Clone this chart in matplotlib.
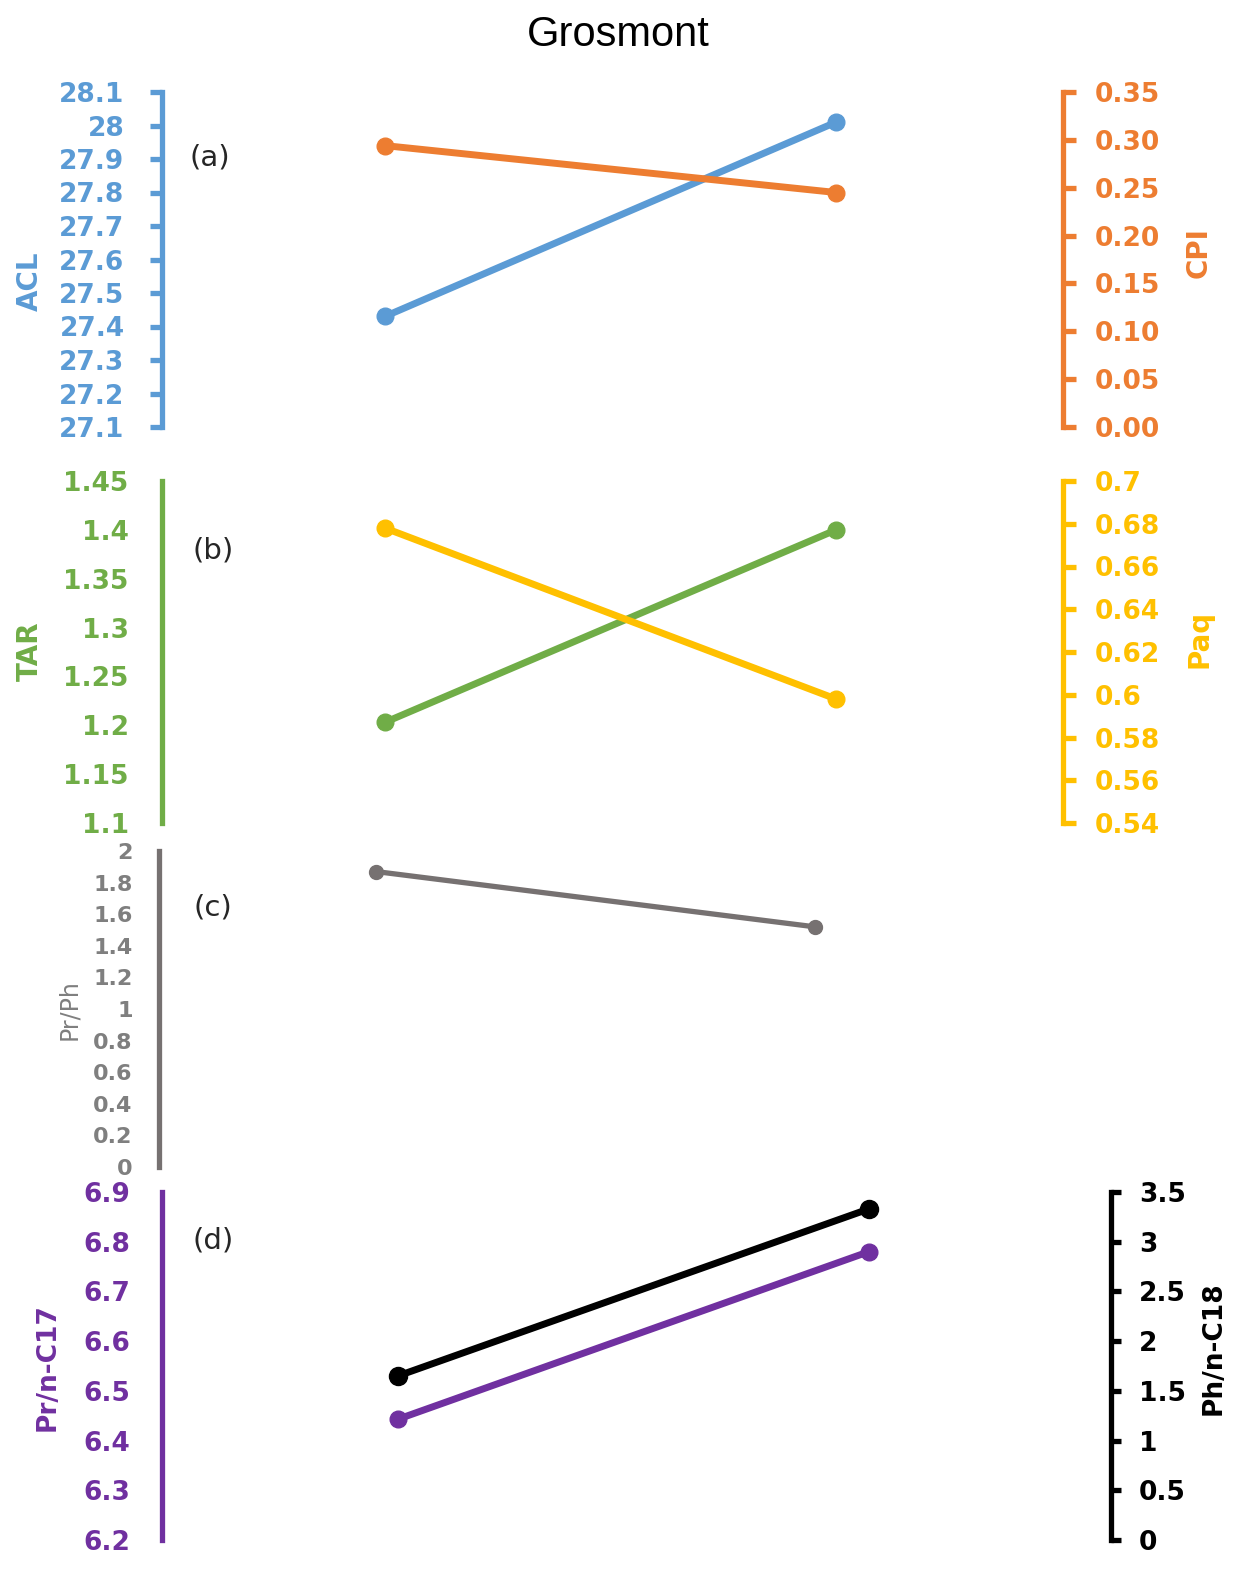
import matplotlib
matplotlib.use('Agg')
import matplotlib.pyplot as plt

dates = ["26/1/08", "27/1/08"]
idx = [0, 1]

acl = [27.43, 28.01]
cpi = [0.294, 0.245]
tar = [1.203, 1.40]
paq = [0.678, 0.598]
pr_ph = [1.87, 1.52]
pr_c17 = [6.443, 6.78]
ph_c18 = [1.65, 3.33]

acl_ticks = [27.1, 27.2, 27.3, 27.4, 27.5, 27.6, 27.7, 27.8, 27.9, 28, 28.1]
acl_labels = ["27.1", "27.2", "27.3", "27.4", "27.5", "27.6", "27.7", "27.8", "27.9", "28", "28.1"]
cpi_ticks = [0, 0.05, 0.10, 0.15, 0.20, 0.25, 0.30, 0.35]
cpi_labels = ["0.00", "0.05", "0.10", "0.15", "0.20", "0.25", "0.30", "0.35"]
tar_ticks = [1.1, 1.15, 1.2, 1.25, 1.3, 1.35, 1.4, 1.45]
tar_labels = ["1.1", "1.15", "1.2", "1.25", "1.3", "1.35", "1.4", "1.45"]
paq_ticks = [0.54, 0.56, 0.58, 0.6, 0.62, 0.64, 0.66, 0.68, 0.7]
paq_labels = ["0.54", "0.56", "0.58", "0.6", "0.62", "0.64", "0.66", "0.68", "0.7"]
prph_ticks = [0, 0.2, 0.4, 0.6, 0.8, 1, 1.2, 1.4, 1.6, 1.8, 2]
prph_labels = ["0", "0.2", "0.4", "0.6", "0.8", "1", "1.2", "1.4", "1.6", "1.8", "2"]
c17_ticks = [6.2, 6.3, 6.4, 6.5, 6.6, 6.7, 6.8, 6.9]
c17_labels = ["6.2", "6.3", "6.4", "6.5", "6.6", "6.7", "6.8", "6.9"]
c18_ticks = [0, 0.5, 1, 1.5, 2, 2.5, 3, 3.5]
c18_labels = ["0", "0.5", "1", "1.5", "2", "2.5", "3", "3.5"]

BLUE = '#5B9BD5'
ORANGE = '#ED7D31'
GREEN = '#70AD47'
YELLOW = '#FFC000'
GRAY = '#767171'
PURPLE = '#7030A0'
BLACK = '#000000'

plt.rcParams['font.family'] = ['DejaVu Sans']

W, H = 1236, 1582
fig = plt.figure(figsize=(W / 100, H / 100), dpi=100)


def px_axes(left, right, top, bottom):
    return fig.add_axes([left / W, (H - bottom) / H, (right - left) / W, (bottom - top) / H])


def clean(ax):
    for s in ['top', 'bottom', 'left', 'right']:
        ax.spines[s].set_visible(False)
    ax.set_xticks([])
    ax.patch.set_alpha(0)


def ylabel_at(ax, label, xy, size, color, weight='bold'):
    ax.text(xy[0], xy[1], label, transform=ax.transAxes, rotation=90, ha='center', va='center',
            fontsize=size, fontweight=weight, color=color)


def left_axis(ax, color, ticks, labels, lim, tick_len, pad, size, weight='bold'):
    ax.spines['left'].set_visible(True)
    ax.spines['left'].set_color(color)
    ax.spines['left'].set_linewidth(3.8)
    ax.set_ylim(lim)
    ax.set_yticks(ticks)
    ax.set_yticklabels(labels, fontsize=size, fontweight=weight, color=color)
    ax.tick_params(axis='y', direction='out', length=tick_len, width=3.8, color=color, pad=pad)


def right_axis(ax, color, ticks, labels, lim, tick_len, pad, size):
    ax.spines['right'].set_visible(True)
    ax.spines['right'].set_color(color)
    ax.spines['right'].set_linewidth(3.8)
    ax.set_ylim(lim)
    ax.set_yticks(ticks)
    ax.set_yticklabels(labels, fontsize=size, fontweight='bold', color=color)
    ax.tick_params(axis='y', direction='out', length=tick_len, width=3.8, color=color, pad=pad,
                   left=False, labelleft=False, right=True, labelright=True)


LW = 5
MS = 12

# (a) ACL / CPI
ax_a = px_axes(162, 1063, 92, 427)
clean(ax_a)
left_axis(ax_a, BLUE, acl_ticks, acl_labels, (27.1, 28.1), 9, 18, 19)
ylabel_at(ax_a, 'ACL', (-0.147, 0.436), 20, BLUE)
ax_a.plot(idx, acl, color=BLUE, lw=LW, marker='o', ms=MS)
ax_a.set_xlim(-0.494, 1.503)
ax_a.text(0.053, 0.803, '(a)', transform=ax_a.transAxes, fontsize=21, color='#262626', ha='center', va='center')
ax_a2 = ax_a.twinx()
clean(ax_a2)
right_axis(ax_a2, ORANGE, cpi_ticks, cpi_labels, (0, 0.35), 9, 14, 19)
ylabel_at(ax_a2, 'CPI', (1.151, 0.522), 20, ORANGE)
ax_a2.plot(idx, cpi, color=ORANGE, lw=LW, marker='o', ms=MS)
ax_a2.set_xlim(-0.494, 1.503)

# (b) TAR / Paq
ax_b = px_axes(162, 1063, 481, 823)
clean(ax_b)
left_axis(ax_b, GREEN, tar_ticks, tar_labels, (1.1, 1.45), 0, 24, 19)
ylabel_at(ax_b, 'TAR', (-0.147, 0.503), 20, GREEN)
ax_b.plot(idx, tar, color=GREEN, lw=LW, marker='o', ms=MS)
ax_b.set_xlim(-0.494, 1.503)
ax_b.text(0.057, 0.798, '(b)', transform=ax_b.transAxes, fontsize=21, color='#262626', ha='center', va='center')
ax_b2 = ax_b.twinx()
clean(ax_b2)
right_axis(ax_b2, YELLOW, paq_ticks, paq_labels, (0.54, 0.7), 9, 14, 19)
ylabel_at(ax_b2, 'Paq', (1.151, 0.538), 20, YELLOW)
ax_b2.plot(idx, paq, color=YELLOW, lw=LW, marker='o', ms=MS)
ax_b2.set_xlim(-0.494, 1.503)

# (c) Pr/Ph
ax_c = px_axes(159, 1063, 851, 1167)
clean(ax_c)
left_axis(ax_c, GRAY, prph_ticks, prph_labels, (0, 2), 0, 19, 16)
for t in ax_c.get_yticklabels():
    t.set_color('#7F7F7F')
ylabel_at(ax_c, 'Pr/Ph', (-0.0996, 0.497), 17, '#7F7F7F', weight='normal')
ax_c.plot(idx, pr_ph, color=GRAY, lw=3.8, marker='o', ms=10)
ax_c.set_xlim(-0.494, 1.565)
ax_c.text(0.060, 0.82, '(c)', transform=ax_c.transAxes, fontsize=21, color='#262626', ha='center', va='center')

# (d) Pr/n-C17 / Ph/n-C18
ax_d = px_axes(162, 1111, 1192, 1540)
clean(ax_d)
left_axis(ax_d, PURPLE, c17_ticks, c17_labels, (6.2, 6.9), 0, 23, 19)
ylabel_at(ax_d, 'Pr/n-C17', (-0.120, 0.497), 19, PURPLE)
ax_d.plot(idx, pr_c17, color=PURPLE, lw=LW, marker='o', ms=MS)
ax_d.set_xlim(-0.501, 1.514)
ax_d.set_xticks(idx)
ax_d.set_xticklabels(dates, fontsize=21, fontweight='bold', color='#595959')
ax_d.tick_params(axis='x', length=0, pad=14)
ax_d.text(0.054, 0.862, '(d)', transform=ax_d.transAxes, fontsize=21, color='#262626', ha='center', va='center')
ax_d2 = ax_d.twinx()
clean(ax_d2)
right_axis(ax_d2, BLACK, c18_ticks, c18_labels, (0, 3.5), 7, 13, 19)
ylabel_at(ax_d2, 'Ph/n-C18', (1.108, 0.552), 19, BLACK)
ax_d2.plot(idx, ph_c18, color=BLACK, lw=LW, marker='o', ms=13)
ax_d2.set_xlim(-0.501, 1.514)

fig.text(618 / W, 1 - 35 / H, 'Grosmont', fontsize=30, family='Liberation Sans', ha='center', va='center')

plt.savefig('out.png', dpi=100)
